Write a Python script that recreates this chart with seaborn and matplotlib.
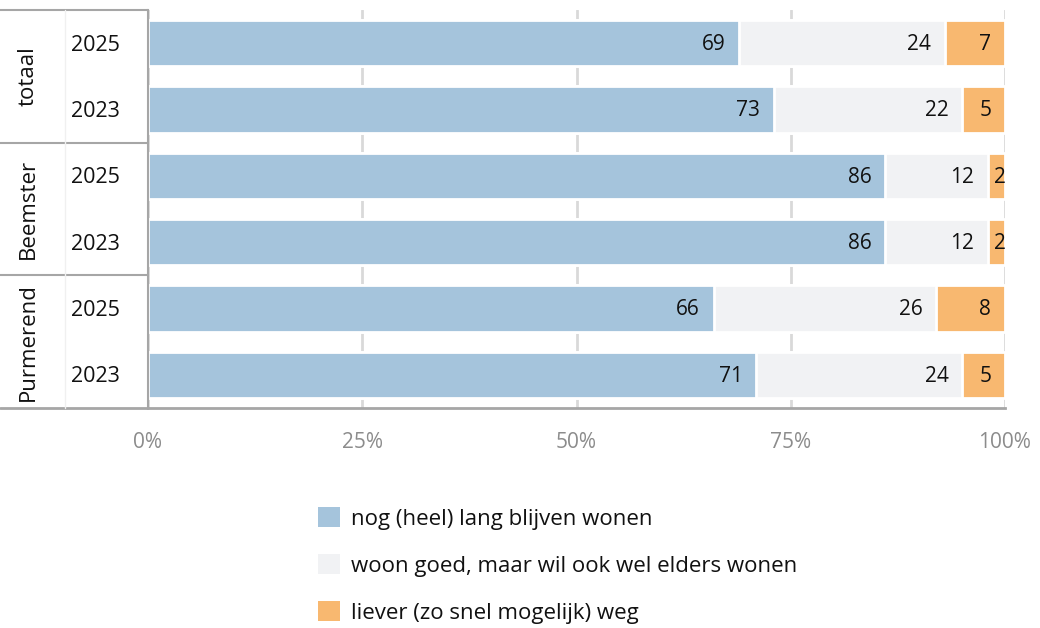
import numpy as np
import pandas as pd
import matplotlib
matplotlib.use("Agg")
import matplotlib.pyplot as plt
import matplotlib.transforms as mtransforms
from matplotlib.patches import Patch
import seaborn as sns

groups = ["totaal", "totaal", "Beemster", "Beemster", "Purmerend", "Purmerend"]
years = ["2025", "2023", "2025", "2023", "2025", "2023"]
blijven = [69, 73, 86, 86, 66, 71]
elders = [24, 22, 12, 12, 26, 24]
weg = [7, 5, 2, 2, 8, 5]
series = ["nog (heel) lang blijven wonen",
          "woon goed, maar wil ook wel elders wonen",
          "liever (zo snel mogelijk) weg"]
colors = ["#a5c4dc", "#f1f2f4", "#f8b870"]
xticks = [0, 25, 50, 75, 100]
xticklabels = ["0%", "25%", "50%", "75%", "100%"]
group_names = ["totaal", "Beemster", "Purmerend"]

sns.set_style("white")
plt.rcParams["font.family"] = ["Open Sans", "DejaVu Sans"]

rows = [f"{g} {y}" for g, y in zip(groups, years)]
df = pd.DataFrame({"row": rows, "b": blijven, "e": elders, "w": weg})
df["c1"] = df["b"]
df["c2"] = df["b"] + df["e"]
df["c3"] = df["b"] + df["e"] + df["w"]

fig = plt.figure(figsize=(10.4, 6.28), dpi=100)
ax = fig.add_axes([148 / 1040, 1 - 408 / 628, 857 / 1040, 398 / 628])

for col, color in zip(["c3", "c2", "c1"], colors[::-1]):
    sns.barplot(data=df, x=col, y="row", order=rows, orient="h", color=color,
                saturation=1, width=0.7, edgecolor="white", linewidth=2, ax=ax)

ax.set_xlim(0, 100)
ax.set_ylim(5.5, -0.5)
ax.set_axisbelow(True)
ax.xaxis.grid(True, color="#d9d9d9", lw=2)
ax.set_xticks(xticks)
ax.set_xticklabels(xticklabels, color="#8c8c8c", fontsize=15)
ax.tick_params(axis="x", length=0, pad=17)
ax.set_yticks([])
ax.set_xlabel("")
ax.set_ylabel("")
for s in ["top", "right"]:
    ax.spines[s].set_visible(False)
ax.spines["left"].set_color("#a6a6a6")
ax.spines["left"].set_linewidth(1.5)
ax.spines["bottom"].set_color("#a6a6a6")
ax.spines["bottom"].set_linewidth(2)

# value labels
for i in range(len(rows)):
    ends = [df["c1"][i], df["c2"][i], df["c3"][i]]
    vals = [blijven[i], elders[i], weg[i]]
    for v, e in zip(vals, ends):
        pad = 1.6 if v > 3 else -0.1
        ax.text(e - pad, i + 0.02, str(v), ha="right", va="center",
                fontsize=15, color="#111111")

# row / group labels
trans = mtransforms.blended_transform_factory(ax.transAxes, ax.transData)
for i, y in enumerate(years):
    ax.text(-0.061, i + 0.03, y, ha="center", va="center", fontsize=15.5,
            color="#111111", transform=trans)
for k, g in enumerate(group_names):
    ax.text(-0.140, 2 * k + 0.5, g, ha="center", va="center", rotation=90,
            fontsize=16, color="#111111", transform=trans)
for yb in [-0.5, 1.5, 3.5]:
    ax.plot([-0.1727, 0], [yb, yb], color="#a6a6a6", lw=1.5,
            transform=trans, clip_on=False)
ax.plot([-0.1727, 0], [5.5, 5.5], color="#a6a6a6", lw=2,
        transform=trans, clip_on=False)
ax.plot([-0.097, -0.097], [-0.5, 5.5], color="#f0f0f0", lw=1,
        transform=trans, clip_on=False)

handles = [Patch(facecolor=c, edgecolor="none") for c in colors]
fig.legend(handles, series, loc="upper left",
           bbox_to_anchor=(307 / 1040, 1 - 496 / 628), frameon=False,
           fontsize=16, handlelength=1.0, handleheight=1.0,
           handletextpad=0.5, labelspacing=1.1, borderpad=0,
           labelcolor="#111111")

fig.savefig("out.png", dpi=100)
